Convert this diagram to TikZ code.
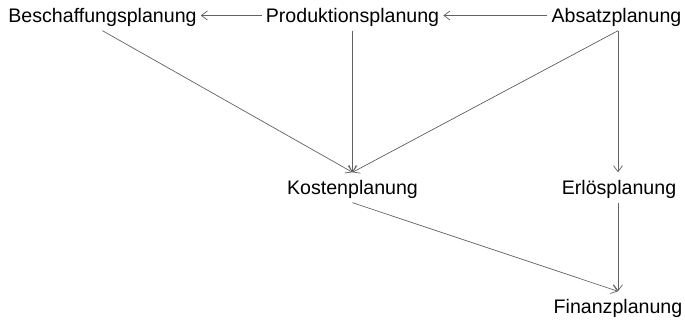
\documentclass[tikz,border=0pt]{standalone}
\usepackage{fontspec}
\setmainfont{Liberation Sans}
\usetikzlibrary{arrows.meta}
\tikzset{
  plan/.style={font=\fontsize{19.6}{22}\selectfont, text=black, text height=14pt, text depth=0pt,
    inner xsep=4pt, inner ysep=8pt, anchor=base},
  arr/.style={draw=black!62, line width=0.7pt, -{Straight Barb[length=6pt,width=9pt]}}
}
\begin{document}
\begin{tikzpicture}[x=1pt,y=-1pt]
\useasboundingbox (0,0) rectangle (685,321);
\node[plan] (besch) at (102.5,22.5) {Beschaffungsplanung};
\node[plan] (prod) at (352.5,22.5) {Produktionsplanung};
\node[plan] (absatz) at (616.5,22.5) {Absatzplanung};
\node[plan] (kosten) at (352.5,194.5) {Kostenplanung};
\node[plan] (erlos) at (619,194.5) {Erlösplanung};
\node[plan] (finanz) at (618,313.5) {Finanzplanung};
\draw[arr] (prod) -- (besch);
\draw[arr] (absatz) -- (prod);
\draw[arr] (besch.south) -- (kosten.north);
\draw[arr] (prod.south) -- (kosten.north);
\draw[arr] ([xshift=1.5pt]absatz.south) -- (kosten.north);
\draw[arr] ([xshift=1.5pt]absatz.south) -- ([xshift=-1pt]erlos.north);
\draw[arr] (kosten.south) -- (finanz.north);
\draw[arr] ([xshift=-1pt]erlos.south) -- (finanz.north);
\end{tikzpicture}
\end{document}
